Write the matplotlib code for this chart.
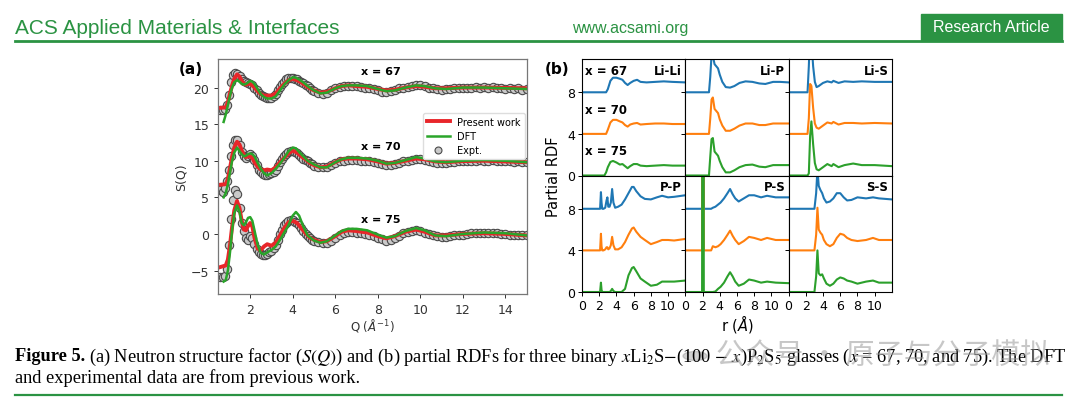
import numpy as np
import matplotlib
matplotlib.use("Agg")
import matplotlib.pyplot as plt
from matplotlib.lines import Line2D
from matplotlib.patches import Rectangle

plt.rcParams['font.family'] = ['DejaVu Sans']
plt.rcParams['mathtext.fontset'] = 'dejavusans'

# ---------------- panel (a): S(Q) ----------------
Q_EXP = np.round(np.concatenate([np.arange(0.6, 4.95, 0.1), np.arange(5.0, 15.05, 0.2)]), 2)

exp67 = [17.0, 17.0, 17.1, 17.6, 19.0, 20.7, 21.7, 22.0, 21.9, 21.6, 21.2, 20.9, 20.7, 20.6, 20.5,
         20.3, 20.0, 19.6, 19.2, 19.0, 18.9, 18.7, 18.6, 18.6, 18.6, 18.8, 19.1, 19.6, 20.1, 20.5,
         20.8, 21.1, 21.3, 21.3, 21.3, 21.2, 21.1, 20.9, 20.8, 20.6, 20.4, 20.2, 20.0, 19.7,
         19.5, 19.3, 19.1, 19.3, 19.6, 19.9, 20.1, 20.2, 20.2, 20.2, 20.2, 20.1, 20.0, 19.9, 19.8,
         19.6, 19.4, 19.4, 19.5, 19.7, 19.9, 20.0, 20.1, 20.2, 20.3, 20.4, 20.2, 20.0, 19.9, 19.8,
         19.7, 19.8, 19.8, 19.9, 20.0, 20.0, 19.9, 20.0, 20.1, 20.0, 20.1, 20.0, 20.1, 19.9, 20.0,
         19.8, 19.9, 19.8, 19.9, 19.7, 19.8]
exp70 = [6.0, 5.8, 6.3, 7.2, 8.8, 10.7, 12.2, 12.9, 12.9, 12.1, 11.2, 10.6, 10.4, 10.6, 10.9,
         10.7, 10.1, 9.4, 8.7, 8.4, 8.2, 8.1, 8.1, 8.2, 8.3, 8.5, 8.8, 9.3, 9.8, 10.2,
         10.6, 10.9, 11.2, 11.3, 11.3, 11.2, 11.0, 10.8, 10.5, 10.3, 10.1, 9.9, 9.7, 9.5,
         9.3, 9.2, 9.1, 9.2, 9.4, 9.7, 9.9, 10.0, 10.1, 10.1, 10.1, 10.0, 10.0, 9.9, 9.8,
         9.7, 9.5, 9.4, 9.4, 9.5, 9.7, 9.9, 10.0, 10.1, 10.2, 10.2, 10.1, 9.9, 9.8, 9.7,
         9.7, 9.7, 9.8, 9.8, 9.9, 9.9, 10.0, 10.0, 10.0, 10.1, 10.0, 10.0, 10.1, 10.0, 9.9,
         9.9, 10.0, 9.8, 9.9, 9.8, 9.8]
exp75 = [-5.9, -5.9, -5.7, -4.8, -1.5, 2.0, 4.6, 6.0, 5.5, 3.5, 1.5, 0.4, -0.5, -0.8, -0.3,
         -0.5, -1.4, -2.1, -2.5, -2.8, -2.9, -2.9, -2.7, -2.5, -2.3, -1.9, -1.5, -0.8, 0.0, 0.6,
         1.2, 1.5, 1.8, 1.9, 1.9, 1.7, 1.5, 1.2, 0.8, 0.4, 0.0, -0.3, -0.6, -0.8,
         -0.9, -1.1, -1.2, -1.2, -0.9, -0.5, -0.1, 0.2, 0.3, 0.3, 0.2, 0.1, 0.0, -0.1, -0.3,
         -0.5, -0.7, -0.9, -0.8, -0.6, -0.3, 0.1, 0.3, 0.4, 0.5, 0.4, 0.2, 0.0, -0.2, -0.3,
         -0.4, -0.4, -0.3, -0.2, -0.1, -0.1, 0.0, 0.1, 0.1, 0.2, 0.2, 0.1, 0.2, 0.1, 0.0,
         0.0, -0.1, -0.1, -0.2, -0.2, -0.2]

Q_RED = [0.5, 0.85, 0.95, 1.05, 1.15, 1.25, 1.38, 1.5, 1.6, 1.7, 1.8, 1.9, 2.0, 2.1, 2.2, 2.35,
         2.5, 2.65, 2.8, 3.0, 3.2, 3.4, 3.6, 3.8, 4.0, 4.2, 4.4, 4.6, 4.8, 5.0, 5.3, 5.6, 6.0,
         6.3, 6.6, 7.0, 7.5, 8.0, 8.4, 8.8, 9.3, 9.8, 10.2, 10.7, 11.2, 12, 13, 14, 15]
red67 = [17.2, 17.3, 18.0, 19.2, 20.3, 21.2, 21.8, 21.5, 20.9, 20.5, 20.4, 20.5, 20.5, 20.3, 20.0,
         19.5, 19.1, 18.9, 18.9, 18.9, 19.2, 19.9, 20.5, 21.0, 21.2, 21.0, 20.7, 20.3, 19.9, 19.6,
         19.3, 19.4, 19.9, 20.2, 20.3, 20.2, 20.1, 19.8, 19.6, 19.7, 20.0, 20.2, 20.1, 19.9, 19.9,
         20.0, 20.0, 19.95, 19.9]
red70 = [6.7, 6.8, 7.5, 9.0, 10.6, 11.8, 12.6, 12.2, 11.4, 10.8, 10.5, 10.6, 10.6, 10.4, 9.8,
         9.2, 8.8, 8.7, 8.8, 8.7, 9.1, 9.8, 10.4, 11.0, 11.4, 11.1, 10.6, 10.2, 9.7, 9.4,
         9.1, 9.2, 9.8, 10.2, 10.3, 10.3, 10.2, 9.9, 9.6, 9.7, 10.0, 10.3, 10.2, 9.9, 9.8,
         9.95, 10.0, 9.9, 9.8]
red75 = [-4.6, -4.3, -3.5, -1.5, 1.0, 3.2, 4.5, 3.5, 1.8, 0.6, 0.5, 1.1, 1.5, 1.0, -0.5,
         -2.0, -2.2, -1.7, -1.4, -1.6, -1.2, -0.2, 0.8, 1.6, 1.8, 1.5, 0.8, 0.1, -0.5, -0.8,
         -1.1, -1.0, -0.3, 0.3, 0.5, 0.4, 0.2, -0.3, -0.6, -0.3, 0.3, 0.6, 0.3, -0.2, -0.2,
         0.0, 0.1, 0.0, -0.2]

Q_DFT = [0.75, 0.85, 0.95, 1.05, 1.15, 1.25, 1.38, 1.5, 1.6, 1.7, 1.8, 1.9, 2.0, 2.1, 2.2, 2.35,
         2.5, 2.65, 2.8, 3.0, 3.2, 3.4, 3.6, 3.8, 4.0, 4.15, 4.3, 4.5, 4.7, 5.0, 5.3, 5.6, 6.0,
         6.3, 6.6, 7.0, 7.5, 8.0, 8.4, 8.8, 9.3, 9.8, 10.2, 10.7, 11.2, 12, 13, 14, 15]
dft67 = [15.3, 16.3, 17.6, 18.9, 20.0, 20.7, 21.0, 20.8, 20.5, 20.4, 20.5, 20.7, 20.9, 20.8, 20.5,
         19.8, 19.1, 18.7, 18.5, 18.5, 18.8, 19.6, 20.4, 21.0, 21.4, 21.35, 21.1, 20.7, 20.2, 19.6,
         19.2, 19.3, 19.9, 20.2, 20.3, 20.3, 20.2, 19.8, 19.5, 19.6, 20.0, 20.3, 20.2, 19.9, 19.8,
         20.0, 20.0, 19.9, 19.8]
dft70 = [5.0, 5.6, 6.8, 8.4, 10.0, 11.1, 11.8, 11.3, 10.9, 10.6, 10.7, 10.9, 11.0, 10.9, 10.6,
         9.7, 8.9, 8.3, 8.0, 8.3, 8.9, 9.6, 10.4, 11.3, 11.8, 11.7, 11.2, 10.6, 10.0, 9.5,
         9.1, 9.1, 9.8, 10.2, 10.4, 10.4, 10.3, 10.0, 9.6, 9.7, 10.1, 10.5, 10.3, 9.9, 9.8,
         10.0, 10.1, 10.0, 9.8]
dft75 = [-6.5, -6.3, -5.0, -2.5, 0.5, 2.8, 3.9, 3.0, 1.5, 1.2, 1.6, 2.2, 2.3, 1.8, 0.5,
         -1.5, -2.6, -2.8, -2.5, -2.2, -1.7, -0.8, 0.2, 1.2, 2.5, 3.0, 2.5, 1.0, -0.2, -0.9,
         -1.2, -1.0, -0.2, 0.4, 0.7, 0.7, 0.5, -0.1, -0.5, -0.3, 0.4, 0.8, 0.5, -0.2, -0.3,
         0.0, 0.2, 0.1, -0.2]

comp_labels = ['x = 67', 'x = 70', 'x = 75']
comp_label_y = [22.3, 12.0, 2.0]

# ---------------- panel (b): partial RDFs (offsets 8 / 4 / 0) ----------------
r_LiLi = [0, 2.6, 2.8, 3.0, 3.3, 3.6, 4.0, 4.4, 4.7, 5.0, 5.3, 5.6, 6.0, 6.4, 6.8, 7.5, 8.5, 9.5, 10.5, 12]
LiLi_67 = [8, 8, 8.0, 8.3, 9.1, 9.4, 9.4, 9.3, 9.2, 8.9, 8.7, 8.9, 9.1, 9.2, 9.0, 8.95, 9.0, 9.05, 9.0, 8.95]
LiLi_70 = [4, 4, 4.0, 4.4, 5.1, 5.35, 5.35, 5.2, 5.1, 4.85, 4.7, 4.9, 5.0, 5.05, 4.9, 4.95, 5.0, 5.0, 4.95, 4.95]
LiLi_75 = [0, 0, 0.3, 0.8, 1.3, 1.4, 1.25, 1.05, 1.1, 0.9, 0.7, 0.9, 1.1, 1.1, 0.95, 0.9, 0.95, 1.0, 0.95, 0.95]

r_LiP = [0, 2.75, 2.9, 3.05, 3.2, 3.4, 3.6, 3.8, 4.0, 4.3, 4.7, 5.2, 5.7, 6.3, 7.0, 7.8, 8.6, 9.3, 10.2, 11, 12]
LiP_67 = [8, 8, 9.5, 11.6, 11.5, 10.7, 10.5, 10.3, 9.7, 9.0, 8.5, 8.45, 8.6, 8.9, 9.05, 9.0, 8.85, 8.8, 9.0, 9.0, 8.95]
LiP_70 = [4, 4, 5.5, 7.3, 7.5, 6.4, 6.2, 6.0, 5.4, 4.8, 4.3, 4.3, 4.5, 4.8, 5.0, 5.0, 4.85, 4.85, 5.0, 5.0, 5.0]
LiP_75 = [0, 0, 1.8, 3.5, 3.6, 2.3, 2.1, 1.9, 1.4, 0.8, 0.3, 0.3, 0.5, 0.8, 1.0, 1.05, 0.85, 0.8, 1.0, 1.0, 1.0]

r_LiS = [0, 2.2, 2.35, 2.5, 2.65, 2.85, 3.05, 3.25, 3.5, 4.0, 4.5, 5.0, 5.2, 5.8, 6.5, 7.5, 8.5, 10, 12]
LiS_67 = [8, 8, 10.5, 14, 13, 10.5, 9.0, 8.5, 8.6, 8.9, 9.05, 8.95, 9.1, 8.9, 9.05, 9.0, 9.05, 9.0, 9.0]
LiS_70 = [4, 4, 5.5, 8.8, 8.6, 6.5, 5.0, 4.6, 4.5, 4.8, 5.1, 5.0, 5.15, 4.9, 5.05, 5.05, 5.0, 5.05, 5.0]
LiS_75 = [0, 0, 0.2, 3.8, 5.2, 3.0, 1.2, 0.6, 0.5, 0.8, 1.1, 0.9, 1.1, 0.8, 1.0, 1.15, 1.0, 1.0, 0.9]

r_PP = [0, 2.1, 2.2, 2.27, 2.35, 2.5, 2.7, 2.85, 2.95, 3.05, 3.2, 3.35, 3.5, 3.65, 3.85, 4.2, 4.6,
        5.0, 5.4, 5.8, 6.0, 6.3, 6.8, 7.3, 8.0, 8.7, 9.3, 10.0, 10.7, 12]
PP_67 = [8, 8, 9.6, 8.6, 8.0, 8.0, 8.1, 8.8, 9.1, 8.2, 8.2, 8.6, 9.9, 8.6, 8.1, 8.2, 8.4,
         8.9, 9.5, 10.1, 10.1, 9.7, 9.2, 8.95, 8.9, 9.1, 9.25, 9.1, 9.15, 9.3]
PP_70 = [4, 4, 5.6, 4.4, 4.0, 4.0, 4.1, 4.3, 4.3, 4.1, 4.2, 4.5, 5.3, 4.5, 4.1, 4.1, 4.3,
         4.8, 5.5, 6.1, 6.2, 5.8, 5.3, 5.0, 4.6, 4.8, 5.0, 5.0, 4.95, 5.1]
PP_75 = [0, 0, 0.9, 0.2, 0, 0, 0, 0, 0, 0, 0, 0.1, 0.3, 0.1, 0, 0, 0,
         0.3, 1.6, 2.3, 2.4, 2.0, 1.3, 1.0, 0.6, 0.7, 1.0, 1.0, 1.0, 1.1]

r_PS = [0, 1.95, 2.02, 2.08, 2.15, 2.5, 3.0, 3.2, 3.5, 3.8, 4.1, 4.5, 4.9, 5.2, 5.5, 5.8, 6.2,
        6.8, 7.4, 8.0, 8.8, 9.5, 10.5, 12]
PS_67 = [8, 8, 40, 40, 8, 8, 8.0, 8.1, 8.2, 8.4, 8.6, 9.0, 9.5, 9.9, 9.4, 9.0, 8.7,
         9.0, 9.3, 9.3, 9.1, 9.25, 9.1, 9.1]
PS_70 = [4, 4, 40, 40, 4, 4, 4.0, 4.4, 4.3, 4.4, 4.6, 5.0, 5.5, 5.9, 5.4, 5.0, 4.6,
         4.9, 5.3, 5.2, 5.0, 5.2, 5.0, 5.0]
PS_75 = [0, 0, 40, 40, 0, 0, 0, 0, 0.05, 0.3, 0.5, 0.9, 1.5, 1.9, 1.5, 1.0, 0.6,
         0.8, 1.2, 1.1, 0.9, 1.0, 0.9, 0.85]

r_SS = [0, 3.0, 3.2, 3.35, 3.5, 3.7, 3.9, 4.1, 4.4, 4.8, 5.2, 5.6, 6.0, 6.4, 6.8, 7.3, 8.0, 9.0, 9.8, 10.5, 12]
SS_67 = [8, 8, 9.5, 11.8, 10.2, 9.8, 9.5, 9.0, 8.6, 8.7, 9.0, 9.5, 9.5, 9.1, 8.8, 8.85, 9.1, 9.0, 9.1, 9.0, 8.9]
SS_70 = [4, 4, 5.5, 8.1, 6.0, 5.7, 5.5, 5.0, 4.6, 4.4, 4.6, 5.2, 5.6, 5.5, 5.2, 5.0, 4.9, 5.0, 5.2, 5.0, 5.0]
SS_75 = [0, 0, 1.5, 4.0, 1.8, 1.6, 1.7, 1.3, 0.8, 0.6, 0.8, 1.2, 1.4, 1.3, 1.1, 1.0, 0.8, 1.0, 1.1, 0.9, 0.9]

pair_names = ['Li-Li', 'Li-P', 'Li-S', 'P-P', 'P-S', 'S-S']
pair_r = [r_LiLi, r_LiP, r_LiS, r_PP, r_PS, r_SS]
pair_curves = [(LiLi_67, LiLi_70, LiLi_75), (LiP_67, LiP_70, LiP_75), (LiS_67, LiS_70, LiS_75),
               (PP_67, PP_70, PP_75), (PS_67, PS_70, PS_75), (SS_67, SS_70, SS_75)]
rdf_colors = ['#1f77b4', '#ff7f0e', '#2ca02c']

W, H = 1080, 406
fig = plt.figure(figsize=(W / 100, H / 100), dpi=100)


def fx(x):
    return x / W


def fy(y):
    return 1 - y / H


# ---- page header ----
green = '#2b9343'
narrow = ['Liberation Sans Narrow', 'Liberation Sans', 'DejaVu Sans']
fig.text(fx(15), fy(28), 'ACS Applied Materials & Interfaces', color=green, fontsize=15,
         family=narrow, va='center', ha='left')
fig.text(fx(630), fy(29), 'www.acsami.org', color=green, fontsize=11.5,
         family=narrow, va='center', ha='center')
fig.patches.append(Rectangle((fx(921), fy(41)), fx(1062) - fx(921), fy(15) - fy(41),
                             transform=fig.transFigure, color=green, zorder=1))
fig.text(fx(991), fy(28), 'Research Article', color='white', fontsize=11.5,
         family=narrow, va='center', ha='center', zorder=2)
fig.add_artist(Line2D([fx(15), fx(1062)], [fy(42), fy(42)], color=green, lw=2,
                      transform=fig.transFigure))
fig.add_artist(Line2D([fx(15), fx(1062)], [fy(396), fy(396)], color=green, lw=1.6,
                      transform=fig.transFigure))

# ---- panel (a) ----
ax = fig.add_axes([fx(218.3), fy(295), (526.7 - 218.3) / W, (295 - 60) / H])
for vals in (exp67, exp70, exp75):
    ax.plot(Q_EXP, vals, 'o', ms=6, mfc='#c9c9c9', mec='#4a4a4a', mew=0.8, zorder=1)
for vals in (red67, red70, red75):
    ax.plot(Q_RED, vals, color='#e8262a', lw=2.8, zorder=2)
for vals in (dft67, dft70, dft75):
    ax.plot(Q_DFT, vals, color='#2aa52a', lw=1.8, zorder=3)
for lab, yv in zip(comp_labels, comp_label_y):
    ax.text(8.15, yv, lab, fontsize=8, fontweight='bold', ha='center', va='center')
ax.set_xlim(0.5, 15)
ax.set_ylim(-8.2, 23.9)
ax.set_xticks([2, 4, 6, 8, 10, 12, 14])
ax.set_yticks([-5, 0, 5, 10, 15, 20])
ax.tick_params(labelsize=9, colors='#333333', length=3, width=0.7)
for s in ax.spines.values():
    s.set_color('#777777')
    s.set_linewidth(0.9)
ax.set_xlabel(r'Q ($\AA^{-1}$)', fontsize=8.5, color='#333333', labelpad=0)
ax.set_ylabel('S(Q)', fontsize=9, color='#333333', labelpad=2)
handles = [Line2D([], [], color='#e8262a', lw=2.8),
           Line2D([], [], color='#2aa52a', lw=1.8),
           Line2D([], [], ls='none', marker='o', ms=5, mfc='#c9c9c9', mec='#4a4a4a', mew=0.8)]
ax.legend(handles, ['Present work', 'DFT', 'Expt.'], loc='upper right', bbox_to_anchor=(1.0, 0.78),
          fontsize=7, frameon=True, edgecolor='#dddddd', framealpha=1, borderaxespad=0.2,
          handlelength=2.3, labelspacing=0.45)
fig.text(fx(191), fy(70), '(a)', fontsize=11, fontweight='bold', ha='center', va='center')

# ---- panel (b) ----
left, top, cw, rh = 582, 60, 103.3, 116.5
axes_b = []
for i in range(6):
    row, col = divmod(i, 3)
    a = fig.add_axes([fx(left + col * cw), fy(top + (row + 1) * rh), cw / W, rh / H])
    for vals, c in zip(pair_curves[i], rdf_colors):
        a.plot(pair_r[i], vals, color=c, lw=1.5)
    a.set_xlim(0, 12)
    a.set_ylim(0, 11.2)
    a.set_xticks([0, 2, 4, 6, 8, 10])
    a.set_yticks([0, 4, 8])
    a.tick_params(labelsize=9, length=3, width=0.7, pad=2)
    if col > 0:
        a.set_yticklabels([])
    if row == 0:
        a.set_xticklabels([])
    for s in a.spines.values():
        s.set_linewidth(0.8)
    a.text(11.6, 10.1, pair_names[i], fontsize=8.5, fontweight='bold', ha='right', va='center')
    axes_b.append(a)
for lab, yv in zip(comp_labels, [10.1, 6.3, 2.4]):
    axes_b[0].text(0.3, yv, lab, fontsize=8.5, fontweight='bold', ha='left', va='center')
fig.text(fx(553), fy(177), 'Partial RDF', fontsize=10.5, rotation=90, ha='center', va='center')
fig.text(fx(737), fy(324), r'r ($\AA$)', fontsize=10.5, ha='center', va='center')
fig.text(fx(557), fy(70), '(b)', fontsize=11, fontweight='bold', ha='center', va='center')

# ---- caption ----
plt.rcParams['mathtext.fontset'] = 'stix'
serif = ['Liberation Serif', 'DejaVu Serif']
cap_fs = 13.2
t1 = fig.text(fx(15), fy(357), 'Figure 5.', fontsize=cap_fs, family=serif, fontweight='bold',
              va='center', ha='left')
fig.canvas.draw()
rend = fig.canvas.get_renderer()
x_after = t1.get_window_extent(rend).x1 / W
fig.text(x_after + 4 / W, fy(357),
         r'(a) Neutron structure factor ($S(Q)$) and (b) partial RDFs for three binary '
         r'$x$Li$_2$S$-$(100 $-$ $x$)P$_2$S$_5$ glasses ($x$ = 67, 70, and 75). The DFT',
         fontsize=cap_fs, family=serif, va='center', ha='left')
fig.text(fx(15), fy(378), 'and experimental data are from previous work.', fontsize=cap_fs,
         family=serif, va='center', ha='left')

# ---- watermark ----
fig.text(fx(716), fy(357), '公众号 · 原子与分子模拟', fontsize=21, color='#9a9a9a', alpha=0.55,
         family=['Noto Sans CJK SC', 'DejaVu Sans'], va='center', ha='left')
fig.patches.append(plt.Circle((fx(695), fy(357)), 12 / W, transform=fig.transFigure,
                              color='#9a9a9a', alpha=0.45))

fig.savefig('out.png', dpi=100)
